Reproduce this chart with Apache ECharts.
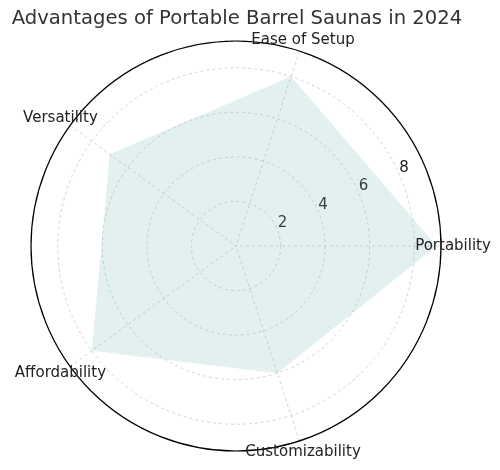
<!DOCTYPE html>
<html>
<head>
<meta charset="utf-8">
<script src="https://cdn.jsdelivr.net/npm/echarts@6/dist/echarts.min.js"></script>
<style>
  html, body { margin: 0; padding: 0; background: #fff; }
  #chart { width: 500px; height: 470px; }
</style>
</head>
<body>
<div id="chart"></div>
<script>
var categories = ['Portability', 'Ease of Setup', 'Versatility', 'Affordability', 'Customizability'];
var scores = [9, 8, 7, 8, 6];
var radialTicks = [2, 4, 6, 8];
var radialMax = 9.2;

var center = [236, 246];
var textColor = '#222';
var step = 360 / categories.length;

// angle of each category, polygon closed back on the first one
var polygon = scores.map(function (v, i) { return [v, i * step]; });
polygon.push([scores[0], 0]);

var labelPoints = categories.map(function (c, i) { return { value: [1, i * step], name: c }; });

var gridLine = { show: true, lineStyle: { color: '#c8c8c8', width: 0.8, type: [3, 3] } };

var option = {
  animation: false,
  title: {
    text: 'Advantages of Portable Barrel Saunas in 2024',
    left: 232,
    textAlign: 'center',
    top: 4,
    textStyle: { fontFamily: 'DejaVu Sans', fontSize: 19.6, fontWeight: 'normal', color: '#333' }
  },
  polar: [
    { center: center, radius: 205 },
    { center: [250, 249], radius: 205 },
    { center: center, radius: 217 }
  ],
  angleAxis: [{
    polarIndex: 0,
    type: 'value',
    min: 0,
    max: 360,
    interval: step,
    startAngle: 0,
    clockwise: false,
    axisLine: { lineStyle: { color: '#000', width: 1.2 } },
    axisTick: { show: false },
    axisLabel: { show: false },
    splitLine: gridLine
  }, {
    polarIndex: 1,
    type: 'value',
    startAngle: 24.5,
    show: false
  }, {
    polarIndex: 2,
    type: 'value',
    min: 0,
    max: 360,
    startAngle: 0,
    clockwise: false,
    show: false
  }],
  radiusAxis: [{
    polarIndex: 0,
    min: 0,
    max: radialMax,
    interval: 2,
    axisLine: { show: false },
    axisTick: { show: false },
    axisLabel: { show: false },
    splitLine: gridLine
  }, {
    polarIndex: 1,
    min: 0,
    max: radialMax,
    interval: 2,
    axisLine: { show: false },
    axisTick: { show: false },
    splitLine: { show: false },
    axisLabel: {
      fontFamily: 'DejaVu Sans',
      fontSize: 15,
      color: textColor,
      margin: 8,
      formatter: function (v) { return radialTicks.indexOf(v) >= 0 ? String(v) : ''; }
    }
  }, {
    polarIndex: 2,
    min: 0,
    max: 1,
    show: false
  }],
  series: [{
    type: 'line',
    coordinateSystem: 'polar',
    polarIndex: 0,
    data: polygon,
    symbol: 'none',
    lineStyle: { width: 0 },
    areaStyle: { color: 'rgba(110,185,180,0.2)', opacity: 1 },
    z: 1
  }, {
    type: 'scatter',
    coordinateSystem: 'polar',
    polarIndex: 2,
    data: labelPoints,
    symbolSize: 0,
    itemStyle: { opacity: 1 },
    label: {
      show: true,
      position: 'inside',
      formatter: '{b}',
      fontFamily: 'DejaVu Sans',
      fontSize: 15,
      color: textColor,
      opacity: 1
    }
  }]
};

var chart = echarts.init(document.getElementById('chart'));
chart.setOption(option);
</script>
</body>
</html>
